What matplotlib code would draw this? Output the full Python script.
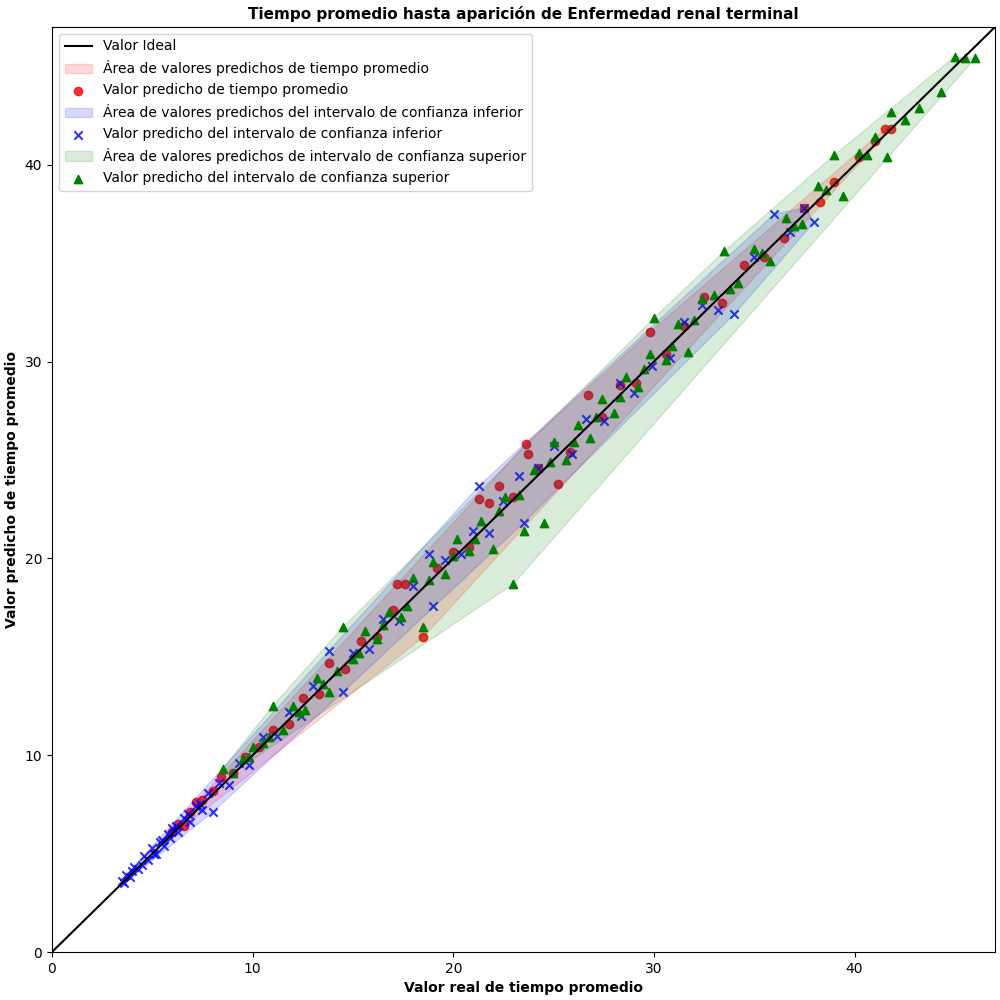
import numpy as np
import matplotlib.pyplot as plt

# valores (aproximados)
red_x = [6.0, 6.3, 6.6, 6.9, 7.2, 7.5, 8.0, 8.4, 9.0, 9.6, 10.3, 11.0, 11.8, 12.5, 13.3, 13.8, 14.6, 15.4,
         16.2, 17.0, 17.2, 17.6, 18.5, 19.2, 20.0, 20.8, 21.3, 21.8, 22.3, 23.0, 23.6, 23.7, 24.2, 25.2, 25.8,
         26.7, 27.4, 28.3, 29.1, 29.8, 30.6, 31.5, 32.5, 33.4, 34.5, 35.5, 36.5, 37.5, 38.3, 39.0, 40.2,
         41.0, 41.5, 41.8]
red_y = [6.1, 6.5, 6.4, 7.1, 7.6, 7.7, 8.2, 8.9, 9.1, 9.9, 10.4, 11.3, 11.6, 12.9, 13.1, 14.7, 14.4, 15.8,
         16.0, 17.4, 18.7, 18.7, 16.0, 19.5, 20.3, 20.6, 23.0, 22.8, 23.7, 23.1, 25.8, 25.3, 24.6, 23.8, 25.4,
         28.3, 27.2, 28.8, 28.9, 31.5, 30.4, 31.8, 33.3, 33.0, 34.9, 35.3, 36.3, 37.8, 38.1, 39.1, 40.4,
         41.2, 41.8, 41.8]

blue_x = [3.5, 3.7, 3.9, 4.1, 4.3, 4.6, 4.8, 5.0, 5.2, 5.4, 5.6, 5.8, 6.0, 6.3, 6.6, 6.9, 7.2, 7.5, 7.8,
          8.0, 8.3, 8.8, 9.3, 9.8, 10.5, 11.2, 11.8, 12.4, 13.0, 13.8, 14.5, 15.0, 15.8, 16.5, 17.3, 18.0,
          18.8, 19.0, 19.6, 20.4, 21.0, 21.3, 21.8, 22.5, 23.3, 23.5, 24.2, 25.0, 25.9, 26.6, 27.5, 28.3,
          29.0, 29.9, 30.8, 31.5, 32.4, 33.2, 34.0, 35.0, 36.0, 36.8, 37.5, 38.0,
          3.6, 4.0, 4.5, 5.1, 5.5, 5.9, 6.2, 6.8, 7.4]
blue_y = [3.6, 3.9, 3.8, 4.3, 4.2, 4.9, 4.7, 5.3, 5.0, 5.6, 5.4, 6.0, 6.3, 6.1, 6.8, 6.6, 7.4, 7.2, 8.1,
          7.1, 8.6, 8.5, 9.6, 9.5, 10.9, 11.0, 12.2, 12.0, 13.5, 15.3, 13.2, 15.2, 15.4, 16.9, 16.8, 18.6,
          20.2, 17.6, 19.9, 20.2, 21.4, 23.7, 21.3, 22.9, 24.2, 21.8, 24.6, 25.7, 25.3, 27.1, 27.0, 28.9,
          28.4, 29.8, 30.2, 32.0, 32.9, 32.6, 32.4, 35.3, 37.5, 36.6, 37.8, 37.1,
          3.5, 4.1, 4.4, 5.0, 5.7, 5.8, 6.4, 7.0, 7.5]

green_x = [8.5, 9.0, 9.5, 10.0, 10.5, 11.0, 11.5, 12.0, 12.6, 13.2, 13.8, 14.5, 15.0, 15.6, 16.2, 16.8,
           17.4, 18.0, 18.5, 19.0, 19.6, 20.2, 20.8, 21.4, 22.0, 22.6, 23.0, 23.5, 24.0, 24.5, 25.0, 25.6,
           26.2, 26.8, 27.4, 28.0, 28.6, 29.2, 29.8, 30.0, 30.6, 31.2, 31.7, 32.4, 33.0, 33.5, 34.2, 35.0,
           35.8, 36.6, 37.4, 38.2, 39.0, 39.4, 40.2, 41.0, 41.6, 41.8, 42.5, 43.2, 44.3, 45.0, 45.5, 46.0,
           9.8, 10.8, 12.3, 13.5, 14.2, 15.3, 16.5, 17.7, 18.8, 20.0, 21.1, 22.3, 23.3, 24.8, 26.0, 27.1,
           28.3, 29.5, 30.9, 32.0, 33.8, 35.4, 37.0, 38.6, 40.6]
green_y = [9.3, 9.1, 9.8, 10.4, 10.6, 12.5, 11.3, 12.5, 12.3, 13.9, 13.2, 16.5, 14.9, 16.3, 15.9, 17.3,
           17.0, 19.0, 16.5, 19.8, 19.2, 21.0, 20.4, 21.9, 20.5, 23.1, 18.7, 21.4, 24.5, 21.8, 25.9, 25.0,
           26.8, 26.1, 28.1, 27.4, 29.2, 28.7, 30.4, 32.2, 30.1, 31.9, 30.5, 33.2, 33.4, 35.6, 34.0, 35.7,
           35.1, 37.3, 37.0, 38.9, 40.5, 38.4, 40.6, 41.4, 40.4, 42.7, 42.3, 42.9, 43.7, 45.5, 45.4, 45.4,
           9.9, 10.9, 12.2, 13.6, 14.3, 15.2, 16.6, 17.6, 18.9, 20.1, 21.0, 22.4, 23.2, 24.9, 25.9, 27.2,
           28.2, 29.6, 30.8, 32.1, 33.7, 35.5, 36.9, 38.7, 40.5]


def hull(x, y):
    pts = sorted(set(zip(x, y)))

    def cross(o, a, b):
        return (a[0] - o[0]) * (b[1] - o[1]) - (a[1] - o[1]) * (b[0] - o[0])

    lower, upper = [], []
    for p in pts:
        while len(lower) >= 2 and cross(lower[-2], lower[-1], p) <= 0:
            lower.pop()
        lower.append(p)
    for p in reversed(pts):
        while len(upper) >= 2 and cross(upper[-2], upper[-1], p) <= 0:
            upper.pop()
        upper.append(p)
    h = np.array(lower[:-1] + upper[:-1])
    return h[:, 0], h[:, 1]


fig, ax = plt.subplots(figsize=(10, 10), dpi=100)

ax.plot([0, 47], [0, 47], color='black', label='Valor Ideal', zorder=5)

hx, hy = hull(red_x, red_y)
ax.fill(hx, hy, color='red', alpha=0.15, label='Área de valores predichos de tiempo promedio')
ax.scatter(red_x, red_y, color='red', alpha=0.8, marker='o', label='Valor predicho de tiempo promedio')

hx, hy = hull(blue_x, blue_y)
ax.fill(hx, hy, color='blue', alpha=0.15, label='Área de valores predichos del intervalo de confianza inferior')
ax.scatter(blue_x, blue_y, color='blue', alpha=0.8, marker='x',
           label='Valor predicho del intervalo de confianza inferior')

hx, hy = hull(green_x, green_y)
ax.fill(hx, hy, color='green', alpha=0.15, label='Área de valores predichos de intervalo de confianza superior')
ax.scatter(green_x, green_y, color='green', marker='^',
           label='Valor predicho del intervalo de confianza superior')

ax.set_xlim(0, 47)
ax.set_ylim(0, 47)
ax.set_xlabel('Valor real de tiempo promedio', fontweight='bold')
ax.set_ylabel('Valor predicho de tiempo promedio', fontweight='bold')
ax.set_title('Tiempo promedio hasta aparición de Enfermedad renal terminal', fontweight='bold', fontsize=11)
ax.legend(loc='upper left')

plt.subplots_adjust(left=0.052, right=0.995, top=0.973, bottom=0.048)
plt.savefig('out.png')
plt.close()
